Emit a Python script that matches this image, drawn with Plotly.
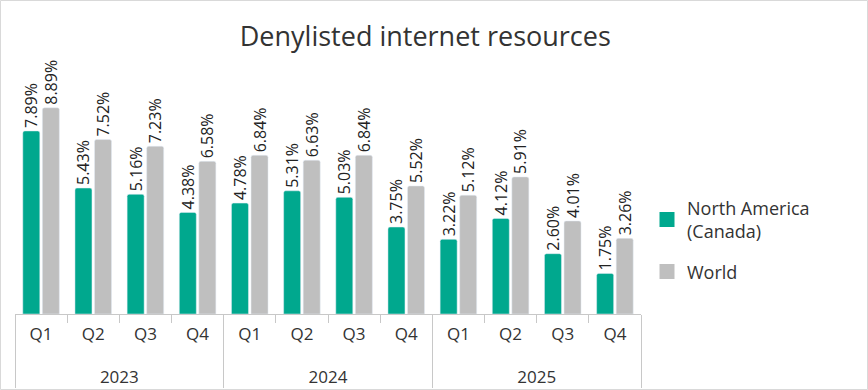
import plotly.graph_objects as go

years = ["2023"] * 4 + ["2024"] * 4 + ["2025"] * 4
quarters = ["Q1", "Q2", "Q3", "Q4"] * 3
north_america = [7.89, 5.43, 5.16, 4.38, 4.78, 5.31, 5.03, 3.75, 3.22, 4.12, 2.60, 1.75]
world = [8.89, 7.52, 7.23, 6.58, 6.84, 6.63, 6.84, 5.52, 5.12, 5.91, 4.01, 3.26]
series_names = ["North America<br>(Canada)", "World"]
colors = ["#00A88E", "#BFBFBF"]

FONT = "Open Sans"
W, H = 868, 390
ml, mr, mt, mb = 15, 227, 59, 76
pw, ph = W - ml - mr, H - mt - mb

# year labels pushed down one line, as in the reference
year_labels = [f"<br>{y}" for y in years]

fig = go.Figure()
for vals, name, col, grp in [(north_america, series_names[0], colors[0], "na"),
                             (world, series_names[1], colors[1], "w")]:
    fig.add_trace(go.Bar(
        x=[year_labels, quarters], y=vals, name=name, legendgroup=grp, showlegend=False,
        marker=dict(color=col, cornerradius=2),
        text=[f"{v:.2f}%" for v in vals], textposition="outside",
        textangle=-90, cliponaxis=False, constraintext="none",
        textfont=dict(family=FONT, size=16, color="#222222"),
    ))
for name, col, grp in [(series_names[0], colors[0], "na"), (series_names[1], colors[1], "w")]:
    # legend-only entries with larger square swatches
    fig.add_trace(go.Scatter(
        x=[[None], [None]], y=[None], mode="markers", name=name, legendgroup=grp,
        marker=dict(symbol="square", size=15, color=col), hoverinfo="skip",
    ))

fig.update_layout(
    width=W, height=H,
    margin=dict(l=ml, r=mr, t=mt, b=mb, autoexpand=False),
    paper_bgcolor="white", plot_bgcolor="white",
    barmode="group", bargap=0.25, bargroupgap=0.13,
    font=dict(family=FONT, color="#333333"),
    title=dict(text="Denylisted internet resources", x=0.49, xanchor="center",
               y=1 - 37 / H, yanchor="middle",
               font=dict(family=FONT, size=27, color="#333333")),
    legend=dict(x=(647 - ml) / pw, y=(314 - 240) / ph, xanchor="left", yanchor="middle",
                font=dict(family=FONT, size=18, color="#333333"),
                tracegroupgap=14, itemsizing="trace"),
    xaxis=dict(type="multicategory", showline=True, linecolor="#c8c8c8", linewidth=1,
               ticks="outside", ticklen=8, tickcolor="#c8c8c8",
               ticklabelstandoff=5,
               showdividers=True, dividercolor="#c8c8c8", dividerwidth=1,
               tickfont=dict(family=FONT, size=17, color="#333333"),
               showgrid=False),
    yaxis=dict(range=[0, ph / 23.2], visible=False, showgrid=False, zeroline=False),
    shapes=[dict(type="rect", xref="paper", yref="paper",
                 x0=(0.5 - ml) / pw, x1=(W - 0.5 - ml) / pw,
                 y0=(314 - (H - 0.5)) / ph, y1=(314 - 0.5) / ph,
                 line=dict(color="#d9d9d9", width=1))],
)

fig.write_html("out.html", config={"displayModeBar": False},
               post_script="document.body.style.margin='0';")
